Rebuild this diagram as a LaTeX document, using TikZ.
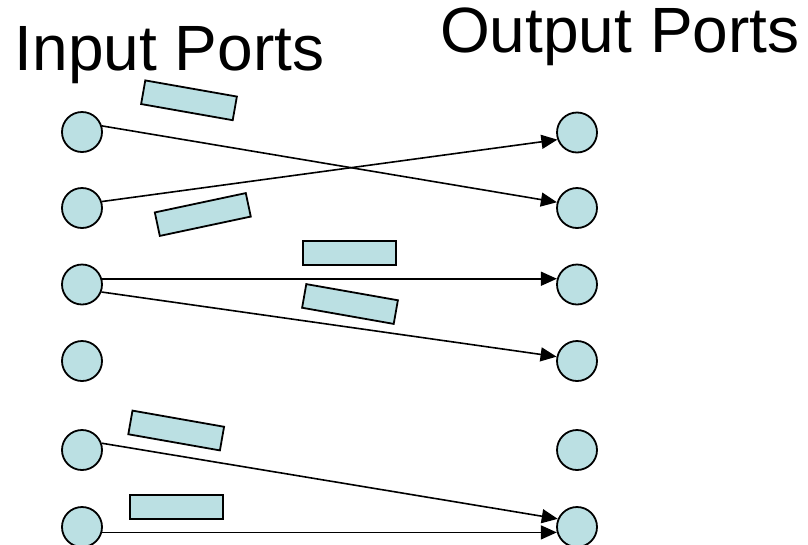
\documentclass[tikz,border=0pt]{standalone}
\usepackage{fontspec}
\setmainfont{Liberation Sans}
\usetikzlibrary{arrows.meta}
\definecolor{portfill}{RGB}{187,224,227}
\begin{document}
\begin{tikzpicture}[x=1pt,y=-1pt,
  port/.style={circle,draw=black,fill=portfill,line width=1.8pt,minimum size=40pt,inner sep=0pt},
  cell/.style={rectangle,draw=black,fill=portfill,line width=1.8pt,minimum width=93pt,minimum height=24pt,inner sep=0pt},
  conn/.style={line width=1.6pt,-{Triangle[length=16pt,width=14pt]}},
  title/.style={anchor=base west,inner sep=0pt,font=\fontsize{64pt}{70pt}\selectfont}]
\useasboundingbox (0,0) rectangle (808,544);
\node[title] (tin) at (14.5,70.7) {Input Ports};
\node[title] (tout) at (440,52) {Output Ports};
% input ports
\node[port] (in1) at (82,132) {};
\node[port] (in2) at (82,208) {};
\node[port] (in3) at (82,284.5) {};
\node[port] (in4) at (82,361) {};
\node[port] (in5) at (82,450) {};
\node[port] (in6) at (82,527) {};
% output ports
\node[port] (out1) at (577,132.5) {};
\node[port] (out2) at (577,208) {};
\node[port] (out3) at (577,284.5) {};
\node[port] (out4) at (577,361) {};
\node[port] (out5) at (577,450) {};
\node[port] (out6) at (577,527) {};
% cells
\node[cell,rotate=-10] (c1) at (189,100.3) {};
\node[cell,rotate=12] (c2) at (202.8,214.5) {};
\node[cell] (c3) at (349.7,252.8) {};
\node[cell,rotate=-10] (c4) at (350,304) {};
\node[cell,rotate=-10] (c5) at (176.2,430.5) {};
\node[cell] (c6) at (176.2,507.2) {};
% connections
\draw[conn] (in1.17) -- (out2.164);
\draw[conn] (in2.18) -- (out1.200);
\draw[conn] (in3.16) -- (out3.164);
\draw[conn] (in3.-21) -- (out4.168);
\draw[conn] (in5.19) -- (out6.157);
\draw[conn] (in6.-15) -- (out6.195);
\end{tikzpicture}
\end{document}
